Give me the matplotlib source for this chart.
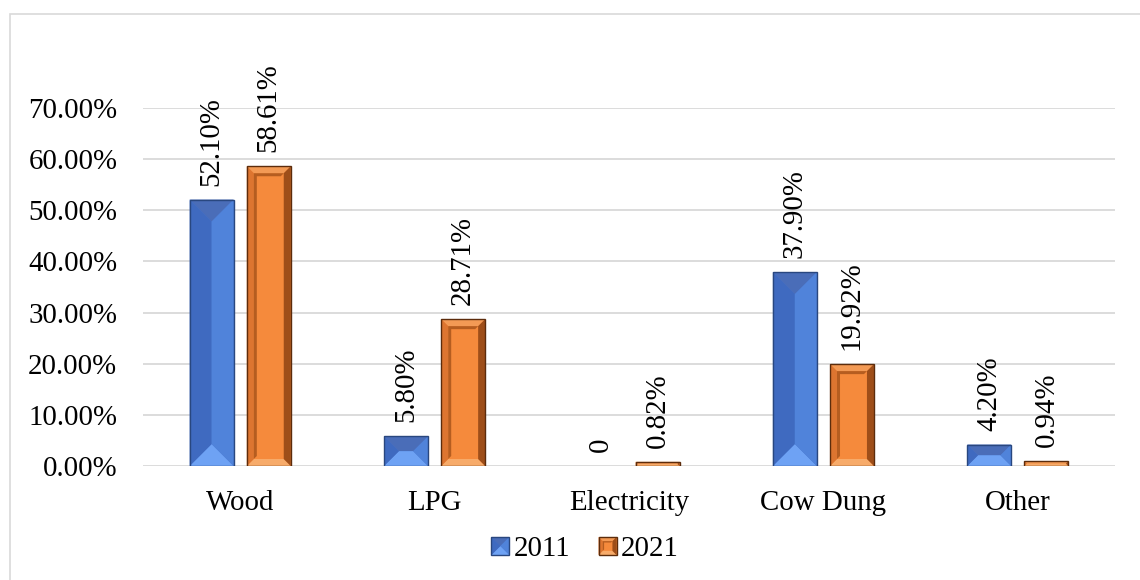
import matplotlib
matplotlib.use("Agg")
import matplotlib.pyplot as plt
from matplotlib.patches import Polygon, Rectangle
from matplotlib.legend_handler import HandlerBase
from matplotlib.ticker import PercentFormatter
import numpy as np

categories = ["Wood", "LPG", "Electricity", "Cow Dung", "Other"]
series_names = ["2011", "2021"]
values_2011 = [52.10, 5.80, 0.0, 37.90, 4.20]
values_2021 = [58.61, 28.71, 0.82, 19.92, 0.94]
labels_2011 = ["52.10%", "5.80%", "0", "37.90%", "4.20%"]
labels_2021 = ["58.61%", "28.71%", "0.82%", "19.92%", "0.94%"]

plt.rcParams["font.family"] = ["Liberation Serif", "DejaVu Serif"]
FS = 20.8

BLUE = dict(top="#4A6DB8", bottom="#6EA2F4", left="#3F6AC0", right="#5083DA",
            inner="#4A78CF", edge="#29477F")
ORANGE = dict(top="#F39A55", bottom="#F7AB6A", left="#DD7530", right="#9E4E19",
              inner="#F58A3C", shade="#B55D20", edge="#5C2C0C")


def pyramid_polys(L, B, R, T, d):
    polys = [
        ([(L, T), (R, T), (R - d, T - d), (L + d, T - d)], "top"),
        ([(L, B), (R, B), (R - d, B + d), (L + d, B + d)], "bottom"),
        ([(L, B), (L + d, B + d), (L + d, T - d), (L, T)], "left"),
        ([(R, B), (R - d, B + d), (R - d, T - d), (R, T)], "right"),
    ]
    return polys


def draw_blue(add, L, B, R, T):
    w, h = R - L, T - B
    d = min(w / 2.0, h / 2.0)
    add(Polygon([(L, B), (R, B), (R, T), (L, T)], closed=True,
                facecolor=BLUE["inner"], edgecolor="none"))
    for pts, key in pyramid_polys(L, B, R, T, d):
        add(Polygon(pts, closed=True, facecolor=BLUE[key], edgecolor="none"))
    add(Polygon([(L, B), (R, B), (R, T), (L, T)], closed=True,
                facecolor="none", edgecolor=BLUE["edge"], linewidth=1.0))


def draw_orange(add, L, B, R, T, frame, shade):
    w, h = R - L, T - B
    d = min(frame, w / 2.0, h / 2.0)
    add(Polygon([(L, B), (R, B), (R, T), (L, T)], closed=True,
                facecolor=ORANGE["inner"], edgecolor="none"))
    for pts, key in pyramid_polys(L, B, R, T, d):
        add(Polygon(pts, closed=True, facecolor=ORANGE[key], edgecolor="none"))
    iL, iB, iR, iT = L + d, B + d, R - d, T - d
    if iR - iL > 2 * shade and iT - iB > 2 * shade:
        add(Polygon([(iL, iB), (iL + shade, iB + shade), (iL + shade, iT - shade),
                     (iR - shade, iT - shade), (iR, iT), (iL, iT)], closed=True,
                    facecolor=ORANGE["shade"], edgecolor="none"))
    add(Polygon([(L, B), (R, B), (R, T), (L, T)], closed=True,
                facecolor="none", edgecolor=ORANGE["edge"], linewidth=1.0))


fig = plt.figure(figsize=(11.4, 5.8), dpi=100)
fig.patch.set_facecolor("white")
# chart-area frame
fig.add_artist(Rectangle((10 / 1140, -0.05), 1.2, 1 - 14 / 580 + 0.05,
                         transform=fig.transFigure, facecolor="none",
                         edgecolor="#D9D9D9", linewidth=1.2))

ax = fig.add_axes([143 / 1140, 1 - 466 / 580, 972 / 1140, 358 / 580])
x = np.arange(len(categories))
width = 0.226
offset = 0.147
ax.set_xlim(-0.5, len(categories) - 0.5)
ax.set_ylim(0, 70)
ax.set_yticks(np.arange(0, 71, 10))
ax.yaxis.set_major_formatter(PercentFormatter(decimals=2))
ax.set_xticks(x)
ax.set_xticklabels(categories)
ax.tick_params(axis="both", length=0, labelsize=FS)
ax.tick_params(axis="y", pad=18.5)
ax.tick_params(axis="x", pad=17)
for s in ax.spines.values():
    s.set_visible(False)
ax.grid(axis="y", color="#D9D9D9", linewidth=1.3)
ax.set_axisbelow(True)

bars_a = ax.bar(x - offset, values_2011, width, color="none", label=series_names[0])
bars_b = ax.bar(x + offset, values_2021, width, color="none", label=series_names[1])

to_px = ax.transData
to_data = ax.transData.inverted()


def add_data_poly(p):
    # polygons are built in pixel space; convert vertices back to data coords
    verts = to_data.transform(p.get_xy())
    p.set_xy(verts)
    p.set_transform(ax.transData)
    p.set_zorder(3)
    ax.add_patch(p)


for bar in bars_a:
    if bar.get_height() <= 0:
        continue
    (L, B), (R, T) = to_px.transform([(bar.get_x(), 0), (bar.get_x() + bar.get_width(), bar.get_height())])
    draw_blue(add_data_poly, L, B, R, T)

for bar in bars_b:
    if bar.get_height() <= 0:
        continue
    (L, B), (R, T) = to_px.transform([(bar.get_x(), 0), (bar.get_x() + bar.get_width(), bar.get_height())])
    draw_orange(add_data_poly, L, B, R, T, frame=7, shade=3)

for bars, labels in ((bars_a, labels_2011), (bars_b, labels_2021)):
    for bar, lab in zip(bars, labels):
        ax.annotate(lab, (bar.get_x() + bar.get_width() / 2, bar.get_height()),
                    xytext=(0, 10), textcoords="offset points", rotation=90,
                    ha="center", va="bottom", fontsize=FS, annotation_clip=False)


class BevelHandler(HandlerBase):
    def __init__(self, kind):
        super().__init__()
        self.kind = kind

    def create_artists(self, legend, orig_handle, xdescent, ydescent, width,
                       height, fontsize, trans):
        s = 13
        L = width - s
        B = (height - s) / 2.0 - ydescent
        arts = []
        if self.kind == "blue":
            draw_blue(arts.append, L, B, L + s, B + s)
        else:
            draw_orange(arts.append, L, B, L + s, B + s, frame=3, shade=1)
        for a in arts:
            a.set_transform(trans)
        return arts


leg = fig.legend([bars_a, bars_b], series_names, loc="center",
                 bbox_to_anchor=(584 / 1140, 1 - 549 / 580), ncol=2, frameon=False,
                 fontsize=FS, handlelength=0.7, handletextpad=0.15, columnspacing=0.9,
                 handler_map={bars_a: BevelHandler("blue"), bars_b: BevelHandler("orange")})

fig.savefig("out.png", dpi=100, facecolor="white")
